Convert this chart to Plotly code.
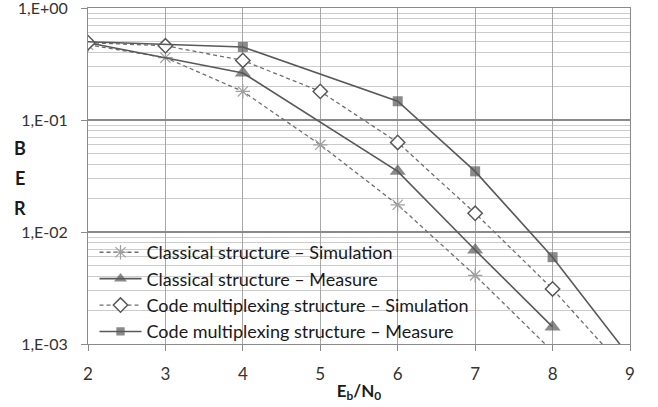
import plotly.graph_objects as go

# Data
x_cs = [2, 3, 4, 5, 6, 7, 8]
ber_cs = [0.47, 0.36, 0.18, 0.060, 0.0175, 0.0041, 0.00086]

x_cm = [2, 4, 6, 7, 8]
ber_cm = [0.49, 0.263, 0.0348, 0.0069, 0.00142]

x_ms = [2, 3, 4, 5, 6, 7, 8, 9]
ber_ms = [0.49, 0.46, 0.34, 0.18, 0.063, 0.0147, 0.0031, 0.00053]

x_mm = [2, 4, 6, 7, 8, 9]
ber_mm = [0.50, 0.449, 0.147, 0.0348, 0.00596, 0.00076]

names = [
    "Classical structure \u2013 Simulation",
    "Classical structure \u2013 Measure",
    "Code multiplexing structure \u2013 Simulation",
    "Code multiplexing structure \u2013 Measure",
]

y_tickvals = [1e-3, 1e-2, 1e-1, 1]
y_ticktext = ["1,E-03", "1,E-02", "1,E-01", "1,E+00"]
x_tickvals = [2, 3, 4, 5, 6, 7, 8, 9]

dark = "#595959"
mid = "#6f6f6f"
light = "#a0a0a0"

fig = go.Figure()

fig.add_trace(go.Scatter(
    x=x_cs, y=ber_cs, name=names[0], mode="lines+markers", legendgroup="a",
    line=dict(color=mid, width=1.3, dash="4px,3px"),
    marker=dict(symbol="asterisk-open", size=12, color=light, line=dict(color=light, width=1.2)),
))
fig.add_trace(go.Scatter(
    x=x_cm, y=ber_cm, name=names[1], mode="lines+markers", legendgroup="b",
    line=dict(color=dark, width=1.6),
    marker=dict(symbol="triangle-up", size=[0] + [14] * (len(x_cm) - 1), color=dark,
                line=dict(width=0)),
))
fig.add_trace(go.Scatter(
    x=x_ms, y=ber_ms, name=names[2], mode="lines+markers", legendgroup="c",
    line=dict(color=mid, width=1.3, dash="4px,3px"),
    marker=dict(symbol="diamond", size=11, color="white", line=dict(color=dark, width=1.5)),
))
fig.add_trace(go.Scatter(
    x=x_mm, y=ber_mm, name=names[3], mode="lines+markers", legendgroup="d",
    line=dict(color=dark, width=1.6),
    marker=dict(symbol="square", size=[0] + [10] * (len(x_mm) - 1), color=dark,
                line=dict(width=0)),
))

font_family = "Lato, 'Open Sans', sans-serif"

fig.update_layout(
    width=658, height=407,
    margin=dict(l=88, r=28, t=8, b=63, autoexpand=False),
    paper_bgcolor="white", plot_bgcolor="white",
    font=dict(family=font_family, size=16, color="#333333"),
    showlegend=True,
    legend=dict(
        x=0.012, y=-0.018, xanchor="left", yanchor="bottom",
        bgcolor="rgba(0,0,0,0)", borderwidth=0,
        font=dict(family=font_family, size=18, color="#1a1a1a"),
        tracegroupgap=0, itemwidth=42,
    ),
    xaxis=dict(
        range=[2, 9], tickvals=x_tickvals, automargin=False,
        showgrid=True, gridcolor="#a8a8a8", gridwidth=1,
        showline=True, linecolor="#8a8a8a", linewidth=1, mirror=True,
        ticks="outside", ticklen=6, tickcolor="#8a8a8a",
        ticklabelstandoff=9, zeroline=False,
        tickfont=dict(size=17),
        title=dict(text="<b>E<sub>b</sub>/N<sub>0</sub></b>", font=dict(size=17, color="#1a1a1a"),
                   standoff=1),
    ),
    yaxis=dict(
        type="log", range=[-3, 0], tickvals=y_tickvals, ticktext=y_ticktext, automargin=False,
        ticklabeloverflow="allow",
        showgrid=True, gridcolor="#8a8a8a", gridwidth=1.5,
        showline=True, linecolor="#8a8a8a", linewidth=1, mirror=True,
        ticks="outside", ticklen=6, tickcolor="#8a8a8a",
        ticklabelstandoff=10,
        minor=dict(dtick="D1", showgrid=True, gridcolor="#cccccc", gridwidth=1, ticks=""),
    ),
)

for letter, ypos in [("B", 148), ("E", 178), ("R", 208)]:
    fig.add_annotation(
        text="<b>%s</b>" % letter, xref="paper", yref="paper",
        x=(20 - 88) / 542, y=(344 - ypos) / 336, xanchor="center", yanchor="middle",
        showarrow=False, font=dict(family=font_family, size=18, color="#1a1a1a"),
    )

fig.write_html("out.html", config={"displayModeBar": False},
               post_script="document.body.style.margin='0px';")
